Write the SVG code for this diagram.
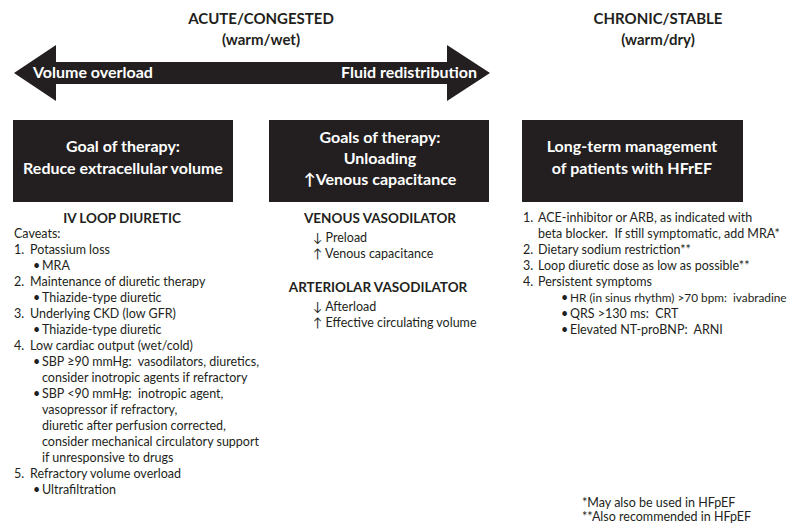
<svg xmlns="http://www.w3.org/2000/svg" width="796" height="531" viewBox="0 0 796 531" xml:space="preserve">
<style>
text{font-family:Lato,"Open Sans","Liberation Sans",sans-serif;fill:#231f20;white-space:pre}
.h{font-size:15px;font-weight:bold;text-anchor:middle}
.w{fill:#fff;font-weight:bold}
.bt{font-size:16px;text-anchor:middle}
.sh{font-size:13.5px;font-weight:bold;text-anchor:middle}
.t{font-size:12.5px}
.box{fill:#231f20}
</style>
<rect width="796" height="531" fill="#fff"/>
<g id="header-acute">
<text class="h" x="261" y="24">ACUTE/CONGESTED</text>
<text class="h" x="261" y="45">(warm/wet)</text>
</g>
<g id="header-chronic">
<text class="h" x="658" y="24">CHRONIC/STABLE</text>
<text class="h" x="658" y="45">(warm/dry)</text>
</g>
<g id="arrow">
<polygon class="box" points="14,73 56,45 56,62 447,62 447,45 490,73 447,101 447,84 56,84 56,101"/>
<text class="w" x="33" y="78" font-size="16">Volume overload</text>
<text class="w" x="477" y="78" font-size="16" text-anchor="end">Fluid redistribution</text>
</g>
<g id="box-diuretic">
<rect class="box" x="13" y="120" width="220" height="82"/>
<text class="bt w" x="123" y="152">Goal of therapy:</text>
<text class="bt w" x="123" y="174">Reduce extracellular volume</text>
</g>
<g id="box-vasodilator">
<rect class="box" x="269" y="120" width="220" height="82"/>
<text class="bt w" x="380" y="143">Goals of therapy:</text>
<text class="bt w" x="380" y="164">Unloading</text>
<text class="bt w" x="380" y="185">↑Venous capacitance</text>
</g>
<g id="box-chronic">
<rect class="box" x="522" y="120" width="221" height="82"/>
<text class="bt w" x="632" y="152">Long-term management</text>
<text class="bt w" x="632" y="174">of patients with HFrEF</text>
</g>
<g id="list-diuretic">
<text class="sh" x="122" y="223">IV LOOP DIURETIC</text>
<text class="t" x="14" y="238">Caveats:</text>
<text class="t" x="14" y="254">1.</text><text class="t" x="30" y="254">Potassium loss</text>
<text class="t" x="33" y="270">•</text><text class="t" x="42" y="270">MRA</text>
<text class="t" x="14" y="286">2.</text><text class="t" x="30" y="286">Maintenance of diuretic therapy</text>
<text class="t" x="33" y="302">•</text><text class="t" x="42" y="302">Thiazide-type diuretic</text>
<text class="t" x="14" y="318">3.</text><text class="t" x="30" y="318">Underlying CKD (low GFR)</text>
<text class="t" x="33" y="334">•</text><text class="t" x="42" y="334">Thiazide-type diuretic</text>
<text class="t" x="14" y="350">4.</text><text class="t" x="30" y="350">Low cardiac output (wet/cold)</text>
<text class="t" x="33" y="366">•</text><text class="t" x="42" y="366">SBP ≥90 mmHg:  vasodilators, diuretics,</text>
<text class="t" x="42" y="382">consider inotropic agents if refractory</text>
<text class="t" x="33" y="398">•</text><text class="t" x="42" y="398">SBP &lt;90 mmHg:  inotropic agent,</text>
<text class="t" x="42" y="414">vasopressor if refractory,</text>
<text class="t" x="42" y="430">diuretic after perfusion corrected,</text>
<text class="t" x="42" y="446">consider mechanical circulatory support</text>
<text class="t" x="42" y="462">if unresponsive to drugs</text>
<text class="t" x="14" y="478">5.</text><text class="t" x="30" y="478">Refractory volume overload</text>
<text class="t" x="33" y="494">•</text><text class="t" x="42" y="494">Ultrafiltration</text>
</g>
<g id="list-vasodilator">
<text class="sh" x="380" y="223">VENOUS VASODILATOR</text>
<text class="t" x="313" y="242">↓ Preload</text>
<text class="t" x="313" y="258">↑ Venous capacitance</text>
<text class="sh" x="378" y="292">ARTERIOLAR VASODILATOR</text>
<text class="t" x="313" y="311">↓ Afterload</text>
<text class="t" x="313" y="327">↑ Effective circulating volume</text>
</g>
<g id="list-chronic">
<text class="t" x="523" y="222">1.</text><text class="t" x="538" y="222">ACE-inhibitor or ARB, as indicated with</text>
<text class="t" x="538" y="238">beta blocker.  If still symptomatic, add MRA*</text>
<text class="t" x="523" y="254">2.</text><text class="t" x="538" y="254">Dietary sodium restriction**</text>
<text class="t" x="523" y="270">3.</text><text class="t" x="538" y="270">Loop diuretic dose as low as possible**</text>
<text class="t" x="523" y="286">4.</text><text class="t" x="538" y="286">Persistent symptoms</text>
<text class="t" x="561" y="302">•</text><text class="t" x="570" y="302" style="font-size:11.8px">HR (in sinus rhythm) &gt;70 bpm:  ivabradine</text>
<text class="t" x="561" y="318">•</text><text class="t" x="570" y="318">QRS &gt;130 ms:  CRT</text>
<text class="t" x="561" y="334">•</text><text class="t" x="570" y="334">Elevated NT-proBNP:  ARNI</text>
</g>
<g id="footnotes">
<text class="t" x="582" y="507">*May also be used in HFpEF</text>
<text class="t" x="582" y="521">**Also recommended in HFpEF</text>
</g>
</svg>
